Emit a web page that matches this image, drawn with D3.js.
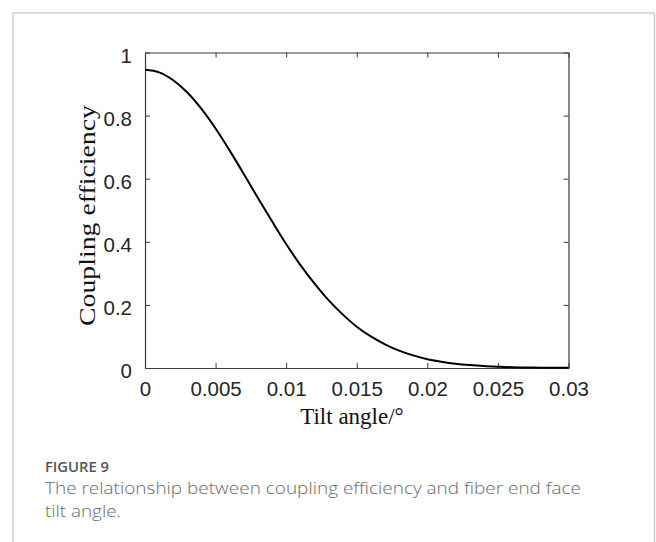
<!DOCTYPE html>
<html>
<head>
<meta charset="utf-8">
<script src="https://cdn.jsdelivr.net/npm/d3@7/dist/d3.min.js"></script>
<style>
  html, body { margin: 0; padding: 0; background: #fff; }
  svg { display: block; }
</style>
</head>
<body>
<svg id="chart" width="656" height="542"></svg>
<script>
// Data
const tiltAngle = [0, 0.001, 0.002, 0.003, 0.004, 0.005, 0.006, 0.007, 0.008, 0.009,
  0.010, 0.011, 0.012, 0.013, 0.014, 0.015, 0.016, 0.017, 0.018, 0.019,
  0.020, 0.021, 0.022, 0.023, 0.024, 0.025, 0.026, 0.027, 0.028, 0.029, 0.030];
const couplingEfficiency = [0.945, 0.937, 0.912, 0.873, 0.821, 0.759, 0.689, 0.615, 0.539, 0.465,
  0.393, 0.327, 0.268, 0.215, 0.170, 0.131, 0.100, 0.075, 0.055, 0.040,
  0.028, 0.020, 0.0136, 0.0092, 0.006, 0.004, 0.0025, 0.0016, 0.001, 0.0006, 0.0004];
const xTicks = [0, 0.005, 0.01, 0.015, 0.02, 0.025, 0.03];
const xTickLabels = ["0", "0.005", "0.01", "0.015", "0.02", "0.025", "0.03"];
const yTicks = [0, 0.2, 0.4, 0.6, 0.8, 1];
const yTickLabels = ["0", "0.2", "0.4", "0.6", "0.8", "1"];
const xLabel = "Tilt angle/°";
const yLabel = "Coupling efficiency";
const figureLabel = "FIGURE 9";
const captionLines = ["The relationship between coupling efficiency and fiber end face", "tilt angle."];

const svg = d3.select("#chart");

// Frame around the figure (open at the bottom)
const frame = svg.append("g").attr("stroke", "#cfcfcf").attr("stroke-width", 1.5).attr("fill", "none");
frame.append("path").attr("d", "M13,542 L13,13 L654.5,13 L654.5,542");

const x = d3.scaleLinear().domain([0, 0.03]).range([145, 568.5]);
const y = d3.scaleLinear().domain([0, 1]).range([368, 52.5]);

const axisColor = "#3a3a3a";
const tickFont = "'Liberation Sans', Arial, Helvetica, sans-serif";

// Bottom axis (ticks inward)
const gx = svg.append("g").attr("transform", `translate(0,${y(0)})`)
  .call(d3.axisBottom(x).tickValues(xTicks).tickFormat((d, i) => xTickLabels[i]).tickSizeInner(-5).tickSizeOuter(0).tickPadding(13));
// Top axis
const gxt = svg.append("g").attr("transform", `translate(0,${y(1)})`)
  .call(d3.axisTop(x).tickValues(xTicks).tickFormat("").tickSizeInner(-5).tickSizeOuter(0));
// Left axis
const gy = svg.append("g").attr("transform", `translate(${x(0)},0)`)
  .call(d3.axisLeft(y).tickValues(yTicks).tickFormat((d, i) => yTickLabels[i]).tickSizeInner(-5).tickSizeOuter(0).tickPadding(13));
// Right axis
const gyr = svg.append("g").attr("transform", `translate(${x(0.03)},0)`)
  .call(d3.axisRight(y).tickValues(yTicks).tickFormat("").tickSizeInner(-5).tickSizeOuter(0));

[gx, gxt, gy, gyr].forEach(g => {
  g.select(".domain").attr("stroke", axisColor).attr("stroke-width", 1.2);
  g.selectAll(".tick line").attr("stroke", axisColor).attr("stroke-width", 1);
  g.selectAll(".tick text").attr("fill", "#262626").style("font-family", tickFont).style("font-size", "20.5px");
});
gx.selectAll(".tick text").attr("dy", "0.71em");
gy.selectAll(".tick text").attr("dy", "0.47em");

// Curve
const line = d3.line()
  .x((d, i) => x(tiltAngle[i]))
  .y(d => y(d))
  .curve(d3.curveMonotoneX);
svg.append("path")
  .datum(couplingEfficiency)
  .attr("fill", "none")
  .attr("stroke", "#000")
  .attr("stroke-width", 2)
  .attr("d", line);

// Axis labels
const serif = "'Liberation Serif', 'Times New Roman', Times, serif";
svg.append("text")
  .attr("x", 352).attr("y", 424)
  .attr("text-anchor", "middle")
  .style("font-family", serif).style("font-size", "23px").attr("fill", "#111")
  .text(xLabel);

svg.append("text")
  .attr("transform", "translate(95,215.5) rotate(-90)")
  .attr("text-anchor", "middle")
  .attr("textLength", 221).attr("lengthAdjust", "spacingAndGlyphs")
  .style("font-family", serif).style("font-size", "23px").attr("fill", "#111")
  .text(yLabel);

// Caption
const capFont = "'Open Sans', 'Noto Sans', sans-serif";
svg.append("text")
  .attr("x", 45).attr("y", 471.5)
  .attr("textLength", 64).attr("lengthAdjust", "spacingAndGlyphs")
  .style("font-family", capFont).style("font-size", "14px").style("font-weight", 600)
  .attr("fill", "#555")
  .text(figureLabel);
const capWidths = [536, 76];
captionLines.forEach((t, i) => {
  svg.append("text")
    .attr("x", 45).attr("y", 494 + i * 22.5)
    .attr("textLength", capWidths[i]).attr("lengthAdjust", "spacingAndGlyphs")
    .style("font-family", capFont).style("font-size", "17px").style("font-weight", 300)
    .attr("fill", "#6a6a6a")
    .text(t);
});
</script>
</body>
</html>
